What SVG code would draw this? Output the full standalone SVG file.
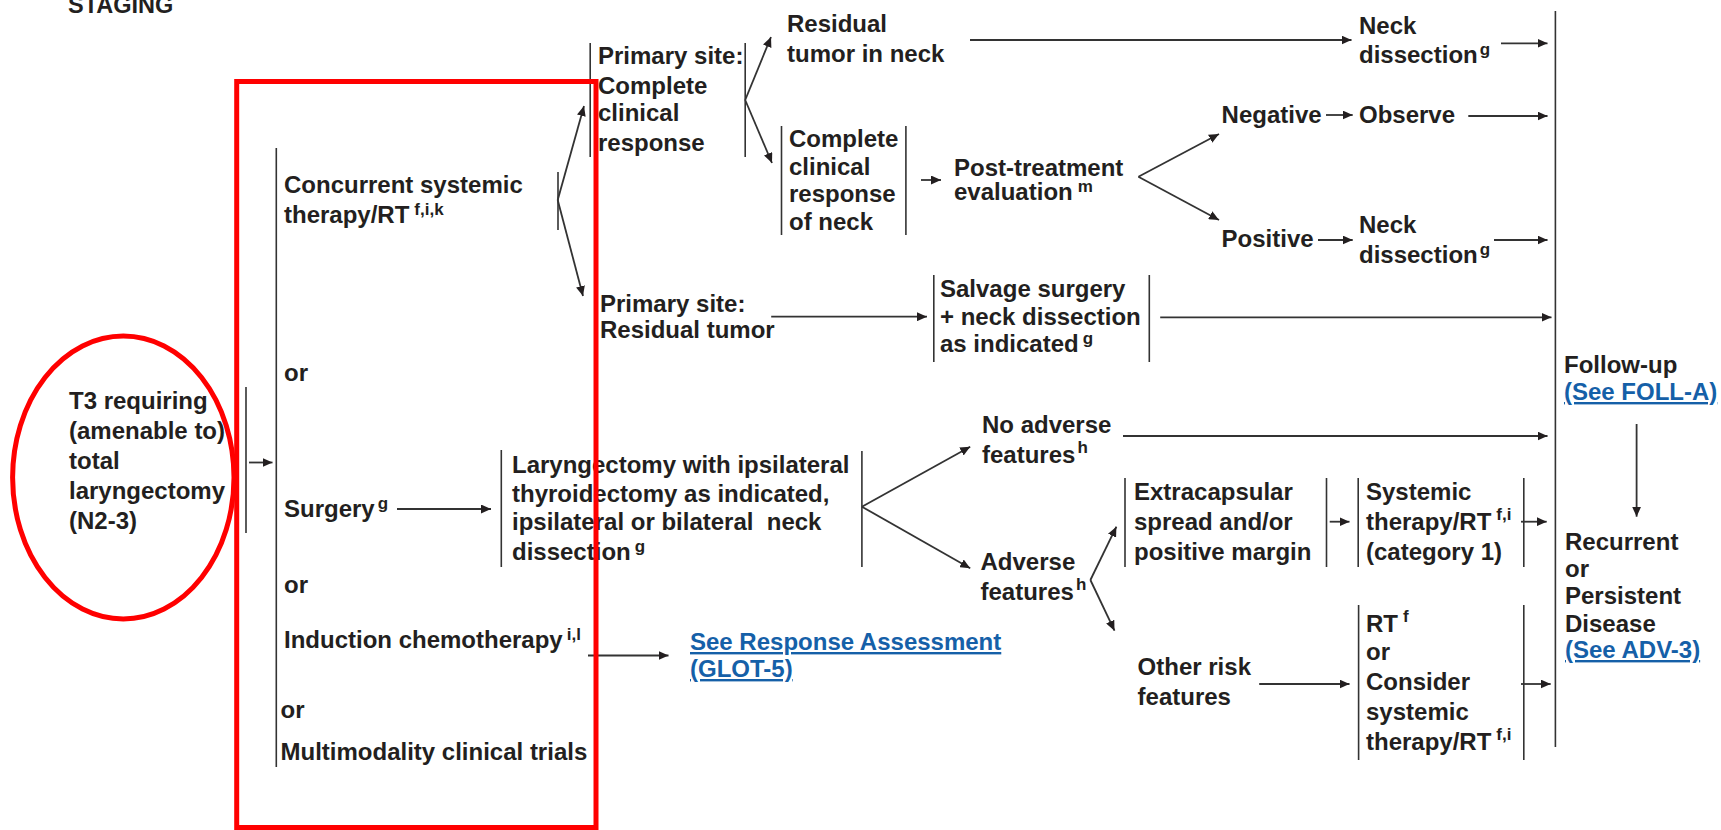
<svg xmlns="http://www.w3.org/2000/svg" width="1721" height="830" viewBox="0 0 1721 830">
  <style>
    text { font-family: "Liberation Sans", Arial, Helvetica, sans-serif; font-weight: bold; font-size: 24px; fill: #231f20; }
    .sup { font-size: 17px; }
    .link { fill: #1560a8; text-decoration: underline; }
    .bar { stroke: #333; stroke-width: 1.6; fill: none; }
    .edge { stroke: #333; stroke-width: 1.8; fill: none; marker-end: url(#arrow); }
    .mark { stroke: #ff0000; stroke-width: 5; fill: none; }
  </style>
  <defs>
    <marker id="arrow" markerUnits="userSpaceOnUse" markerWidth="11" markerHeight="9" refX="10" refY="4.5" orient="auto">
      <path d="M0,0 L10,4.5 L0,9 z" fill="#231f20"/>
    </marker>
  </defs>
  <rect width="1721" height="830" fill="#ffffff"/>

  <text x="68" y="13" style="font-size:23.5px">STAGING</text>

  <!-- entry condition -->
  <g id="n-t3">
    <text x="69" y="409"><tspan x="69" y="409">T3 requiring</tspan><tspan x="69" y="439">(amenable to)</tspan><tspan x="69" y="469">total</tspan><tspan x="69" y="499">laryngectomy</tspan><tspan x="69" y="529">(N2-3)</tspan></text>
    <line class="bar" x1="246" y1="387" x2="246" y2="533"/>
  </g>

  <!-- primary treatment options -->
  <g id="n-options">
    <line class="bar" x1="276.3" y1="148" x2="276.3" y2="767"/>
    <text x="284" y="193"><tspan x="284" y="193">Concurrent systemic</tspan><tspan x="284" y="223">therapy/RT</tspan><tspan class="sup" dx="5" dy="-8">f,i,k</tspan></text>
    <text x="284" y="381">or</text>
    <text x="284" y="517">Surgery<tspan class="sup" dx="3" dy="-8">g</tspan></text>
    <text x="284" y="593">or</text>
    <text x="284" y="648">Induction chemotherapy<tspan class="sup" dx="4" dy="-8">i,l</tspan></text>
    <text x="280.5" y="718">or</text>
    <text x="280.5" y="760">Multimodality clinical trials</text>
    <line class="bar" x1="558" y1="172" x2="558" y2="230"/>
  </g>

  <g id="n-primary-cr">
    <line class="bar" x1="590.2" y1="43" x2="590.2" y2="157"/>
    <line class="bar" x1="745.2" y1="43" x2="745.2" y2="157"/>
    <text x="598" y="64"><tspan x="598" y="64">Primary site:</tspan><tspan x="598" y="94">Complete</tspan><tspan x="598" y="121">clinical</tspan><tspan x="598" y="151">response</tspan></text>
  </g>

  <g id="n-residual-neck">
    <text x="787" y="32"><tspan x="787" y="32">Residual</tspan><tspan x="787" y="62">tumor in neck</tspan></text>
  </g>

  <g id="n-neck-dissection-1">
    <text x="1359" y="34"><tspan x="1359" y="34">Neck</tspan><tspan x="1359" y="63">dissection</tspan><tspan class="sup" dx="2" dy="-8">g</tspan></text>
  </g>

  <g id="n-ccr-neck">
    <line class="bar" x1="781.5" y1="126" x2="781.5" y2="235"/>
    <line class="bar" x1="905.9" y1="126" x2="905.9" y2="235"/>
    <text x="789" y="147"><tspan x="789" y="147">Complete</tspan><tspan x="789" y="175">clinical</tspan><tspan x="789" y="202">response</tspan><tspan x="789" y="230">of neck</tspan></text>
  </g>

  <g id="n-post-eval">
    <text x="954" y="176"><tspan x="954" y="176">Post-treatment</tspan><tspan x="954" y="200">evaluation</tspan><tspan class="sup" dx="5" dy="-8">m</tspan></text>
  </g>

  <g id="n-negative">
    <text x="1221.6" y="123">Negative</text>
  </g>
  <g id="n-observe">
    <text x="1359" y="123">Observe</text>
  </g>
  <g id="n-positive">
    <text x="1221.6" y="247">Positive</text>
  </g>
  <g id="n-neck-dissection-2">
    <text x="1359" y="233"><tspan x="1359" y="233">Neck</tspan><tspan x="1359" y="263">dissection</tspan><tspan class="sup" dx="2" dy="-8">g</tspan></text>
  </g>

  <g id="n-primary-residual">
    <text x="600" y="312"><tspan x="600" y="312">Primary site:</tspan><tspan x="600" y="338">Residual tumor</tspan></text>
  </g>

  <g id="n-salvage">
    <line class="bar" x1="933.8" y1="275" x2="933.8" y2="362"/>
    <line class="bar" x1="1149.3" y1="275" x2="1149.3" y2="362"/>
    <text x="940" y="297"><tspan x="940" y="297">Salvage surgery</tspan><tspan x="940" y="325">+ neck dissection</tspan><tspan x="940" y="352">as indicated</tspan><tspan class="sup" dx="4" dy="-8">g</tspan></text>
  </g>

  <g id="n-laryngectomy">
    <line class="bar" x1="501.3" y1="450" x2="501.3" y2="567"/>
    <line class="bar" x1="861.9" y1="451" x2="861.9" y2="567"/>
    <text x="512" y="473" xml:space="preserve"><tspan x="512" y="473">Laryngectomy with ipsilateral</tspan><tspan x="512" y="502">thyroidectomy as indicated,</tspan><tspan x="512" y="530">ipsilateral or bilateral  neck</tspan><tspan x="512" y="560">dissection</tspan><tspan class="sup" dx="4" dy="-8">g</tspan></text>
  </g>

  <g id="n-no-adverse">
    <text x="982" y="433"><tspan x="982" y="433">No adverse</tspan><tspan x="982" y="463">features</tspan><tspan class="sup" dx="2" dy="-10">h</tspan></text>
  </g>

  <g id="n-adverse">
    <text x="980.5" y="570"><tspan x="980.5" y="570">Adverse</tspan><tspan x="980.5" y="600">features</tspan><tspan class="sup" dx="2" dy="-10">h</tspan></text>
  </g>

  <g id="n-extracapsular">
    <line class="bar" x1="1125" y1="478" x2="1125" y2="567"/>
    <line class="bar" x1="1326.5" y1="478" x2="1326.5" y2="567"/>
    <text x="1134" y="500"><tspan x="1134" y="500">Extracapsular</tspan><tspan x="1134" y="530">spread and/or</tspan><tspan x="1134" y="560">positive margin</tspan></text>
  </g>

  <g id="n-systemic-cat1">
    <line class="bar" x1="1358.2" y1="478" x2="1358.2" y2="567"/>
    <line class="bar" x1="1523.8" y1="478" x2="1523.8" y2="567"/>
    <text x="1366" y="500"><tspan x="1366" y="500">Systemic</tspan><tspan x="1366" y="530">therapy/RT</tspan><tspan class="sup" dx="5" dy="-10">f,i</tspan><tspan x="1366" y="560">(category 1)</tspan></text>
  </g>

  <g id="n-other-risk">
    <text x="1137.6" y="675"><tspan x="1137.6" y="675">Other risk</tspan><tspan x="1137.6" y="705">features</tspan></text>
  </g>

  <g id="n-rt-or-systemic">
    <line class="bar" x1="1358.6" y1="605" x2="1358.6" y2="760"/>
    <line class="bar" x1="1523.8" y1="605" x2="1523.8" y2="760"/>
    <text x="1366" y="632"><tspan x="1366" y="632">RT</tspan><tspan class="sup" dx="5" dy="-10">f</tspan><tspan x="1366" y="660">or</tspan><tspan x="1366" y="690">Consider</tspan><tspan x="1366" y="720">systemic</tspan><tspan x="1366" y="750">therapy/RT</tspan><tspan class="sup" dx="5" dy="-10">f,i</tspan></text>
  </g>

  <g id="n-response-link">
    <text x="690" y="650" class="link"><tspan x="690" y="650">See Response Assessment</tspan><tspan x="690" y="677">(GLOT-5)</tspan></text>
  </g>

  <g id="n-follow-up">
    <line class="bar" x1="1555.4" y1="11" x2="1555.4" y2="747"/>
    <text x="1564" y="373">Follow-up</text>
    <text x="1564" y="400" class="link">(See FOLL-A)</text>
  </g>

  <g id="n-recurrent">
    <text x="1565" y="550"><tspan x="1565" y="550">Recurrent</tspan><tspan x="1565" y="577">or</tspan><tspan x="1565" y="604">Persistent</tspan><tspan x="1565" y="632">Disease</tspan></text>
    <text x="1565" y="658" class="link">(See ADV-3)</text>
  </g>

  <!-- connectors -->
  <g id="connectors">
    <line class="edge" x1="249" y1="462.5" x2="272.5" y2="462.5"/>
    <line class="edge" x1="557.7" y1="200" x2="584" y2="106"/>
    <line class="edge" x1="557.7" y1="200" x2="583" y2="296"/>
    <line class="edge" x1="397" y1="509" x2="491" y2="509"/>
    <line class="edge" x1="588" y1="655.5" x2="668.5" y2="655.5"/>
    <line class="edge" x1="745.2" y1="100" x2="771" y2="37"/>
    <line class="edge" x1="745.2" y1="100" x2="772" y2="163"/>
    <line class="edge" x1="970" y1="40" x2="1351.5" y2="40"/>
    <line class="edge" x1="1501" y1="43.3" x2="1547.5" y2="43.3"/>
    <line class="edge" x1="921" y1="180" x2="941" y2="180"/>
    <line class="edge" x1="1138.4" y1="176.7" x2="1219" y2="134"/>
    <line class="edge" x1="1138.4" y1="176.7" x2="1219" y2="220"/>
    <line class="edge" x1="1326" y1="115" x2="1352.7" y2="115"/>
    <line class="edge" x1="1468.3" y1="116" x2="1547.5" y2="116"/>
    <line class="edge" x1="1318" y1="240" x2="1352.7" y2="240"/>
    <line class="edge" x1="1494" y1="240" x2="1547.5" y2="240"/>
    <line class="edge" x1="771.2" y1="316.7" x2="927" y2="316.7"/>
    <line class="edge" x1="1160.2" y1="317.3" x2="1551.5" y2="317.3"/>
    <line class="edge" x1="861.9" y1="506.7" x2="970.2" y2="446.7"/>
    <line class="edge" x1="861.9" y1="506.7" x2="970.2" y2="568.3"/>
    <line class="edge" x1="1123" y1="436" x2="1547.5" y2="436"/>
    <line class="edge" x1="1090.4" y1="580" x2="1116.4" y2="526.7"/>
    <line class="edge" x1="1090.4" y1="580" x2="1114.5" y2="630.7"/>
    <line class="edge" x1="1329.7" y1="521.7" x2="1349.5" y2="521.7"/>
    <line class="edge" x1="1521" y1="521.7" x2="1546.7" y2="521.7"/>
    <line class="edge" x1="1259.2" y1="684" x2="1349.5" y2="684"/>
    <line class="edge" x1="1521" y1="684" x2="1550.7" y2="684"/>
    <line class="edge" x1="1636.6" y1="424" x2="1636.6" y2="516.7"/>
  </g>

  <!-- red highlight marks -->
  <g id="highlights">
    <rect class="mark" x="236.7" y="81.5" width="359.3" height="746"/>
    <ellipse class="mark" cx="123.3" cy="477.5" rx="110.7" ry="141.5"/>
  </g>
</svg>
